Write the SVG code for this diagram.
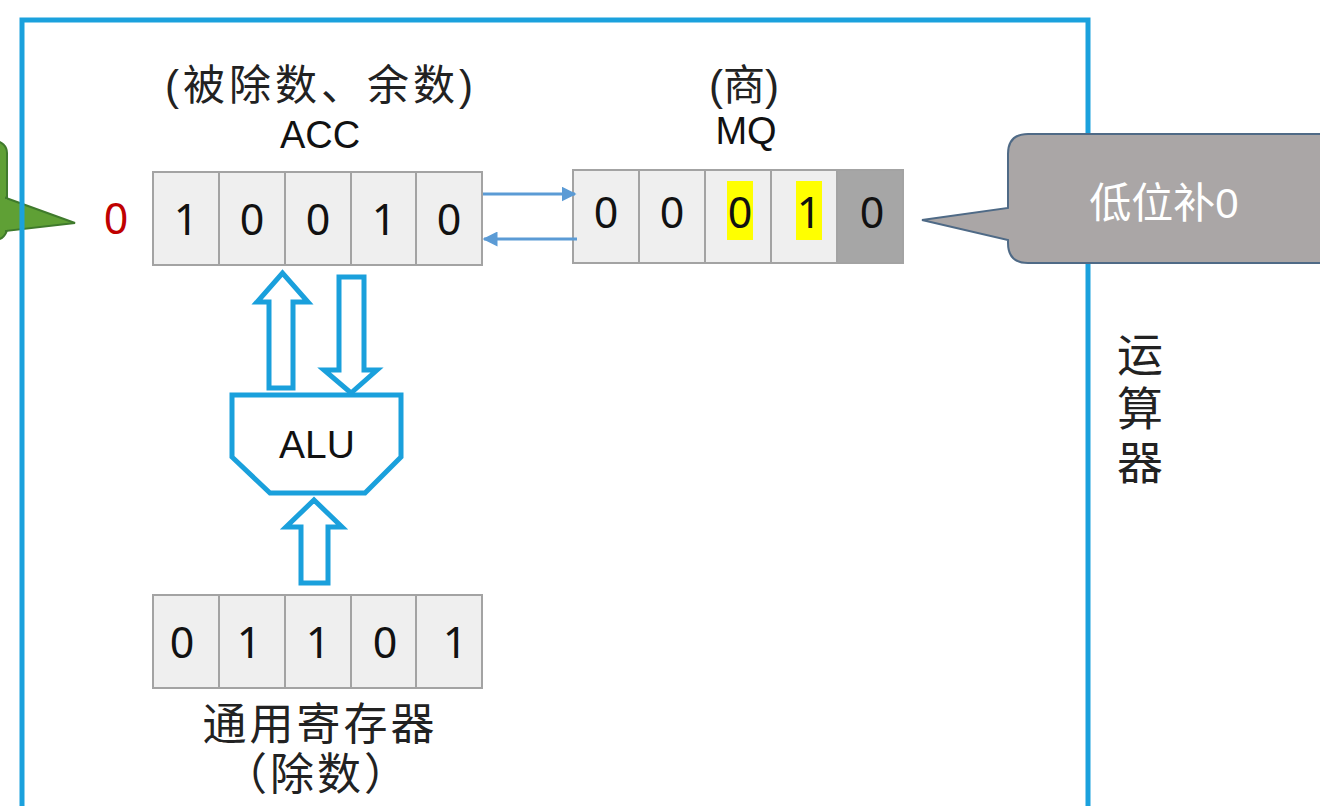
<svg xmlns="http://www.w3.org/2000/svg" width="1320" height="806" viewBox="0 0 1320 806">
<style>
.cell{fill:#efefef;stroke:#a3a3a3;stroke-width:2}
.dig{font-family:"Noto Sans","Noto Sans CJK SC",sans-serif;font-size:43px;fill:#111;text-anchor:middle}
.cjk{font-family:"Liberation Sans","Noto Sans CJK SC",sans-serif;fill:#222;text-anchor:middle}
.lat{font-family:"Liberation Sans","Noto Sans CJK SC",sans-serif;fill:#111;text-anchor:middle}
.hollow{fill:#fff;stroke:#1aa0dc;stroke-width:5;stroke-linejoin:miter}
.conn{stroke:#5b9bd5;stroke-width:3;fill:none}
</style>
<defs>
<marker id="ah" viewBox="0 0 10 10" refX="9" refY="5" markerWidth="5" markerHeight="5" orient="auto" markerUnits="strokeWidth">
<path d="M0,0 L10,5 L0,10 Z" fill="#5b9bd5"/>
</marker>
</defs>
<rect width="1320" height="806" fill="#fff"/>

<g id="green-callout">
<rect x="-30" y="141" width="37" height="99" rx="12" fill="#5fa035" stroke="#3f7a2c" stroke-width="2"/>
<path d="M6,198 L75,223 L6,231 Z" fill="#5fa035" stroke="#3f7a2c" stroke-width="2" stroke-linejoin="miter"/>
<rect x="-4" y="199" width="11" height="31" fill="#5fa035"/>
</g>

<g id="frame">
<rect x="22" y="20" width="1066" height="820" fill="none" stroke="#1ba1dd" stroke-width="5"/>
</g>

<g id="acc">
<text class="cjk" x="321" y="100" font-size="42" letter-spacing="4">(被除数、余数)</text>
<text class="lat" x="320" y="148" font-size="38">ACC</text>
<text class="dig" x="116" y="234" style="fill:#c00000">0</text>
<rect class="cell" x="153" y="172" width="66" height="93"/>
<rect class="cell" x="219" y="172" width="66" height="93"/>
<rect class="cell" x="285" y="172" width="66" height="93"/>
<rect class="cell" x="351" y="172" width="65" height="93"/>
<rect class="cell" x="416" y="172" width="66" height="93"/>
<text class="dig" x="186" y="235">1</text>
<text class="dig" x="252" y="235">0</text>
<text class="dig" x="318" y="235">0</text>
<text class="dig" x="384" y="235">1</text>
<text class="dig" x="449" y="235">0</text>
</g>

<g id="mq">
<text class="cjk" x="744" y="100" font-size="42">(商)</text>
<text class="lat" x="746" y="144" font-size="38">MQ</text>
<rect class="cell" x="573" y="170" width="66" height="93"/>
<rect class="cell" x="639" y="170" width="66" height="93"/>
<rect class="cell" x="705" y="170" width="66" height="93"/>
<rect class="cell" x="771" y="170" width="66" height="93"/>
<rect x="837" y="170" width="66" height="93" fill="#a6a6a6" stroke="#a3a3a3" stroke-width="2"/>
<rect x="727" y="181" width="26" height="59" fill="#ffff00"/>
<rect x="796" y="181" width="26" height="59" fill="#ffff00"/>
<text class="dig" x="606" y="228">0</text>
<text class="dig" x="672" y="228">0</text>
<text class="dig" x="740" y="228">0</text>
<text class="dig" x="809" y="228">1</text>
<text class="dig" x="872" y="228">0</text>
</g>

<g id="gpr">
<rect class="cell" x="153" y="595" width="66" height="93"/>
<rect class="cell" x="219" y="595" width="66" height="93"/>
<rect class="cell" x="285" y="595" width="66" height="93"/>
<rect class="cell" x="351" y="595" width="65" height="93"/>
<rect class="cell" x="416" y="595" width="66" height="93"/>
<text class="dig" x="182" y="658">0</text>
<text class="dig" x="249" y="658">1</text>
<text class="dig" x="318" y="658">1</text>
<text class="dig" x="385" y="658">0</text>
<text class="dig" x="455" y="658">1</text>
<text class="cjk" x="320" y="740" font-size="44" letter-spacing="3">通用寄存器</text>
<text class="cjk" x="317" y="790" font-size="44" letter-spacing="3">（除数）</text>
</g>

<g id="alu">
<path class="hollow" d="M232,395 L401,395 L401,457 L365,493 L270,493 L232,457 Z"/>
<text class="lat" x="317" y="458" font-size="39">ALU</text>
</g>

<g id="connectors">
<line class="conn" x1="483" y1="194" x2="575" y2="194" marker-end="url(#ah)"/>
<line class="conn" x1="577" y1="239" x2="484" y2="239" marker-end="url(#ah)"/>
<path class="hollow" d="M269,388 L269,302 L257,302 L282.5,273 L308,302 L293,302 L293,388 Z"/>
<path class="hollow" d="M339,277 L364,277 L364,370 L377,370 L351,393 L324,370 L339,370 Z"/>
<path class="hollow" d="M301,583 L301,527 L286,527 L314,500 L342,527 L328,527 L328,583 Z"/>
</g>

<g id="gray-callout">
<path d="M1028,134 L1340,134 L1340,263 L1028,263 Q1008,263 1008,243 L1008,240 L922,220 L1008,208 L1008,154 Q1008,134 1028,134 Z" fill="#aaa6a6" stroke="#4f6a86" stroke-width="2" stroke-linejoin="miter"/>
<text class="cjk" x="1164" y="218" font-size="42" style="fill:#fff">低位补0</text>
</g>

<g id="label-alu-unit">
<text x="1140" y="331" font-family="Noto Sans CJK SC, sans-serif" font-size="46" fill="#222" writing-mode="vertical-rl" letter-spacing="8">运算器</text>
</g>
</svg>
